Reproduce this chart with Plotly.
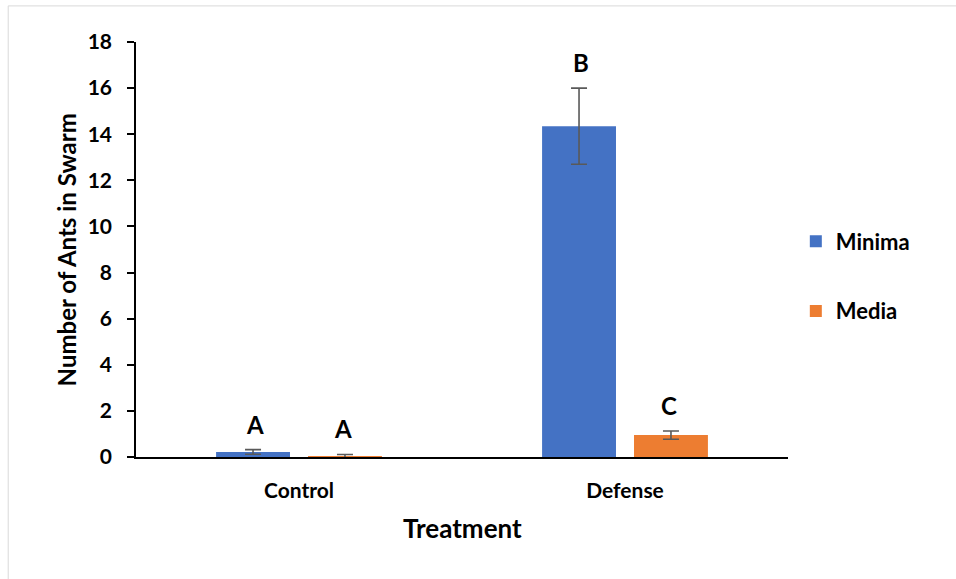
import plotly.graph_objects as go

categories = ["Control", "Defense"]
series_names = ["Minima", "Media"]
minima_values = [0.22, 14.35]
minima_errors = [0.10, 1.65]
media_values = [0.04, 0.95]
media_errors = [0.07, 0.18]
minima_letters = ["A", "B"]
media_letters = ["A", "C"]
y_ticks = [0, 2, 4, 6, 8, 10, 12, 14, 16, 18]

FONT = "Lato"
colors = ["#4472C4", "#ED7D31"]
values = [minima_values, media_values]
errors = [minima_errors, media_errors]
letters = [minima_letters, media_letters]

fig = go.Figure()
for i, name in enumerate(series_names):
    fig.add_trace(go.Bar(
        x=categories, y=values[i], name=name,
        marker=dict(color=colors[i], line=dict(width=0)),
        error_y=dict(type="data", array=errors[i], color="#595959", thickness=1.6, width=8),
        legendgroup=name,
    ))

shifts = [-44, 44]
for i in range(len(series_names)):
    for j, cat in enumerate(categories):
        fig.add_annotation(
            x=cat, y=values[i][j] + errors[i][j], xref="x", yref="y",
            text=letters[i][j], showarrow=False, xshift=shifts[i], yshift=9,
            yanchor="bottom", font=dict(family=FONT, size=24, color="#000", weight="bold"),
        )

# axis titles
fig.add_annotation(x=-0.106, y=0.5, xref="paper", yref="paper", text="Number of Ants in Swarm",
                   textangle=-90, showarrow=False, xanchor="center", yanchor="middle",
                   font=dict(family=FONT, size=24, color="#000", weight="bold"))
fig.add_annotation(x=0.5, y=-0.17, xref="paper", yref="paper", text="Treatment",
                   showarrow=False, xanchor="center", yanchor="middle",
                   font=dict(family=FONT, size=26, color="#000", weight="bold"))

# outer light frame
fig.add_shape(type="rect", xref="paper", yref="paper", x0=-0.196, x1=1.6, y0=-0.6, y1=1.087,
              line=dict(color="#D9D9D9", width=1), fillcolor="rgba(0,0,0,0)", layer="below")

fig.update_layout(
    width=956, height=579,
    margin=dict(l=136, r=168, t=42, b=122),
    paper_bgcolor="white", plot_bgcolor="white",
    barmode="group", bargap=0.436, bargroupgap=0.196,
    showlegend=True,
    legend=dict(x=1.012, y=0.435, xanchor="left", yanchor="middle",
                font=dict(family=FONT, size=22, color="#000", weight="bold"),
                tracegroupgap=38, traceorder="grouped", itemwidth=30),
    xaxis=dict(showline=True, linecolor="#000", linewidth=2, ticks="", showgrid=False,
               ticklabelstandoff=14,
               tickfont=dict(family=FONT, size=21, color="#000", weight="bold")),
    yaxis=dict(range=[0, 18], tickvals=y_ticks, showline=True, linecolor="#000", linewidth=1.5,
               ticks="outside", ticklen=7, tickcolor="#000", tickwidth=1.5, showgrid=False,
               zeroline=False, ticklabelstandoff=11,
               tickfont=dict(family=FONT, size=21, color="#000", weight="bold")),
)

fig.write_html("out.html")
